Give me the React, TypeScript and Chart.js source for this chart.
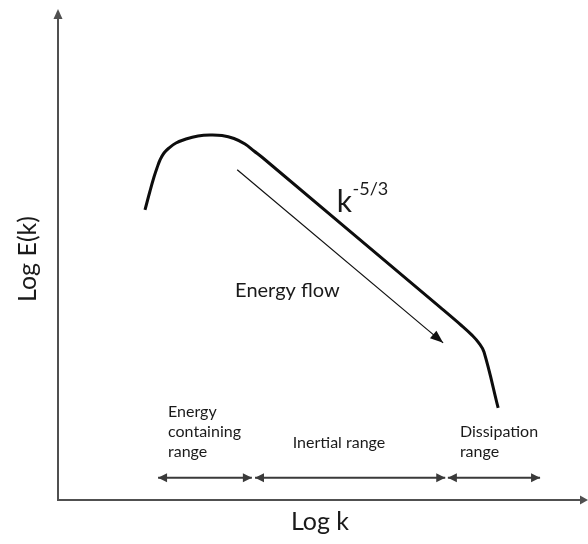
import React, { useEffect, useRef } from "react";
import { Chart, registerables } from "chart.js";

Chart.register(...registerables);

const FONT = "Lato, 'Noto Sans', 'DejaVu Sans', sans-serif";
const INK = "#1a1a1a";
const AXIS_COLOR = "#505050";
const BRACKET_COLOR = "#3a3a3a";

// Energy spectrum, log k vs log E(k)
const spectrumLogK = [
  1.66, 1.756, 1.832, 1.889, 1.947, 2.023, 2.118, 2.252, 2.443, 2.672, 2.901, 3.13, 3.359, 3.569, 3.74, 3.912,
  7.29, 7.71, 7.9, 8.03, 8.13, 8.4,
];
const spectrumLogE = [
  6.017, 6.411, 6.701, 6.888, 7.054, 7.199, 7.303, 7.407, 7.49, 7.552, 7.573, 7.562, 7.5, 7.386, 7.241, 7.095,
  4.0, 3.61, 3.42, 3.26, 3.07, 1.91,
];

// Cascade direction arrow (start, end)
const flowLogK = [3.42, 7.35];
const flowLogE = [6.85, 3.26];

// Wavenumber ranges marked under the curve
const rangeLines = [["Energy", "containing", "range"], ["Inertial range"], ["Dissipation", "range"]];
const rangeStart = [1.91, 3.76, 7.44];
const rangeEnd = [3.7, 7.39, 9.2];
const rangeLevel = 0.46;
const rangeLabelK = [2.1, 4.48, 7.67];
const rangeLabelE = [1.72, 1.08, 1.31];

// Text anchors
const slopeText = "k";
const slopeExponent = "-5/3";
const slopeAt = [5.32, 5.98];
const flowText = "Energy flow";
const flowTextAt = [3.38, 4.21];

const xTitle = "Log k";
const yTitle = "Log E(k)";

function arrowHead(ctx: CanvasRenderingContext2D, tx: number, ty: number, angle: number, len: number, half: number, color: string) {
  ctx.save();
  ctx.translate(tx, ty);
  ctx.rotate(angle);
  ctx.beginPath();
  ctx.moveTo(0, 0);
  ctx.lineTo(-len, -half);
  ctx.lineTo(-len, half);
  ctx.closePath();
  ctx.fillStyle = color;
  ctx.fill();
  ctx.restore();
}

const annotate = {
  id: "annotate",
  afterDatasetsDraw(chart: any) {
    const { ctx, chartArea, scales } = chart;
    const xs = scales.x;
    const ys = scales.y;
    const px = (v: number) => xs.getPixelForValue(v);
    const py = (v: number) => ys.getPixelForValue(v);
    ctx.save();

    // axis arrowheads
    arrowHead(ctx, chartArea.right + 6, chartArea.bottom, 0, 8, 4.5, AXIS_COLOR);
    arrowHead(ctx, chartArea.left, chartArea.top - 9, -Math.PI / 2, 10, 4.5, AXIS_COLOR);

    // cascade arrowhead
    const fx0 = px(flowLogK[0]), fy0 = py(flowLogE[0]);
    const fx1 = px(flowLogK[1]), fy1 = py(flowLogE[1]);
    arrowHead(ctx, fx1, fy1, Math.atan2(fy1 - fy0, fx1 - fx0), 13, 5, "#111");

    // range bracket heads
    for (let i = 0; i < rangeStart.length; i++) {
      const yy = py(rangeLevel);
      arrowHead(ctx, px(rangeStart[i]), yy, Math.PI, 9, 4.5, BRACKET_COLOR);
      arrowHead(ctx, px(rangeEnd[i]), yy, 0, 9, 4.5, BRACKET_COLOR);
    }

    ctx.fillStyle = INK;
    ctx.textAlign = "left";
    ctx.textBaseline = "alphabetic";

    // range labels
    ctx.font = `16px ${FONT}`;
    for (let i = 0; i < rangeLines.length; i++) {
      const x0 = px(rangeLabelK[i]);
      const y0 = py(rangeLabelE[i]);
      rangeLines[i].forEach((line, j) => ctx.fillText(line, x0, y0 + j * 20));
    }

    // flow label
    ctx.font = `20px ${FONT}`;
    ctx.fillText(flowText, px(flowTextAt[0]), py(flowTextAt[1]));

    // slope label
    const sx = px(slopeAt[0]);
    const sy = py(slopeAt[1]);
    ctx.font = `30px ${FONT}`;
    ctx.fillText(slopeText, sx, sy);
    const kw = ctx.measureText(slopeText).width;
    ctx.font = `18px ${FONT}`;
    ctx.fillText(slopeExponent, sx + kw + 0.5, sy - 17);

    ctx.restore();
  },
};

export default function App() {
  const canvasRef = useRef<HTMLCanvasElement | null>(null);

  useEffect(() => {
    const canvas = canvasRef.current;
    if (!canvas) return;

    const spectrum = spectrumLogK.map((k, i) => ({ x: k, y: spectrumLogE[i] }));
    const flow = flowLogK.map((k, i) => ({ x: k, y: flowLogE[i] }));
    const brackets = rangeStart.map((s, i) => ({
      data: [
        { x: s, y: rangeLevel },
        { x: rangeEnd[i], y: rangeLevel },
      ],
      borderColor: BRACKET_COLOR,
      borderWidth: 2,
      pointRadius: 0,
      showLine: true,
      fill: false,
    }));

    const chart = new Chart(canvas, {
      type: "scatter",
      data: {
        datasets: [
          {
            data: spectrum,
            borderColor: "#0d0d0d",
            borderWidth: 3,
            pointRadius: 0,
            showLine: true,
            tension: 0.4,
            fill: false,
          } as any,
          {
            data: flow,
            borderColor: "#111",
            borderWidth: 1.2,
            pointRadius: 0,
            showLine: true,
            fill: false,
          },
          ...brackets,
        ],
      },
      options: {
        animation: false,
        responsive: true,
        maintainAspectRatio: false,
        layout: { padding: { left: 6, right: 6, top: 18, bottom: 0 } },
        plugins: {
          legend: { display: false },
          tooltip: { enabled: false },
          title: { display: false },
        },
        scales: {
          x: {
            type: "linear",
            min: 0,
            max: 10,
            grid: { display: false, drawTicks: false },
            ticks: { display: false },
            border: { display: true, color: AXIS_COLOR, width: 2 },
            title: {
              display: true,
              text: xTitle,
              color: INK,
              font: { family: FONT, size: 25 },
              padding: { top: 7.3, bottom: 6.7 },
            },
          },
          y: {
            type: "linear",
            min: 0,
            max: 10,
            grid: { display: false, drawTicks: false },
            ticks: { display: false },
            border: { display: true, color: AXIS_COLOR, width: 2 },
            title: {
              display: true,
              text: yTitle,
              color: INK,
              font: { family: FONT, size: 25 },
              padding: { top: 7.3, bottom: 14.7 },
            },
          },
        },
      },
      plugins: [annotate],
    });

    return () => chart.destroy();
  }, []);

  return (
    <div style={{ position: "absolute", left: 0, top: 0, width: 588, height: 544, background: "#fff" }}>
      <canvas ref={canvasRef} />
    </div>
  );
}
